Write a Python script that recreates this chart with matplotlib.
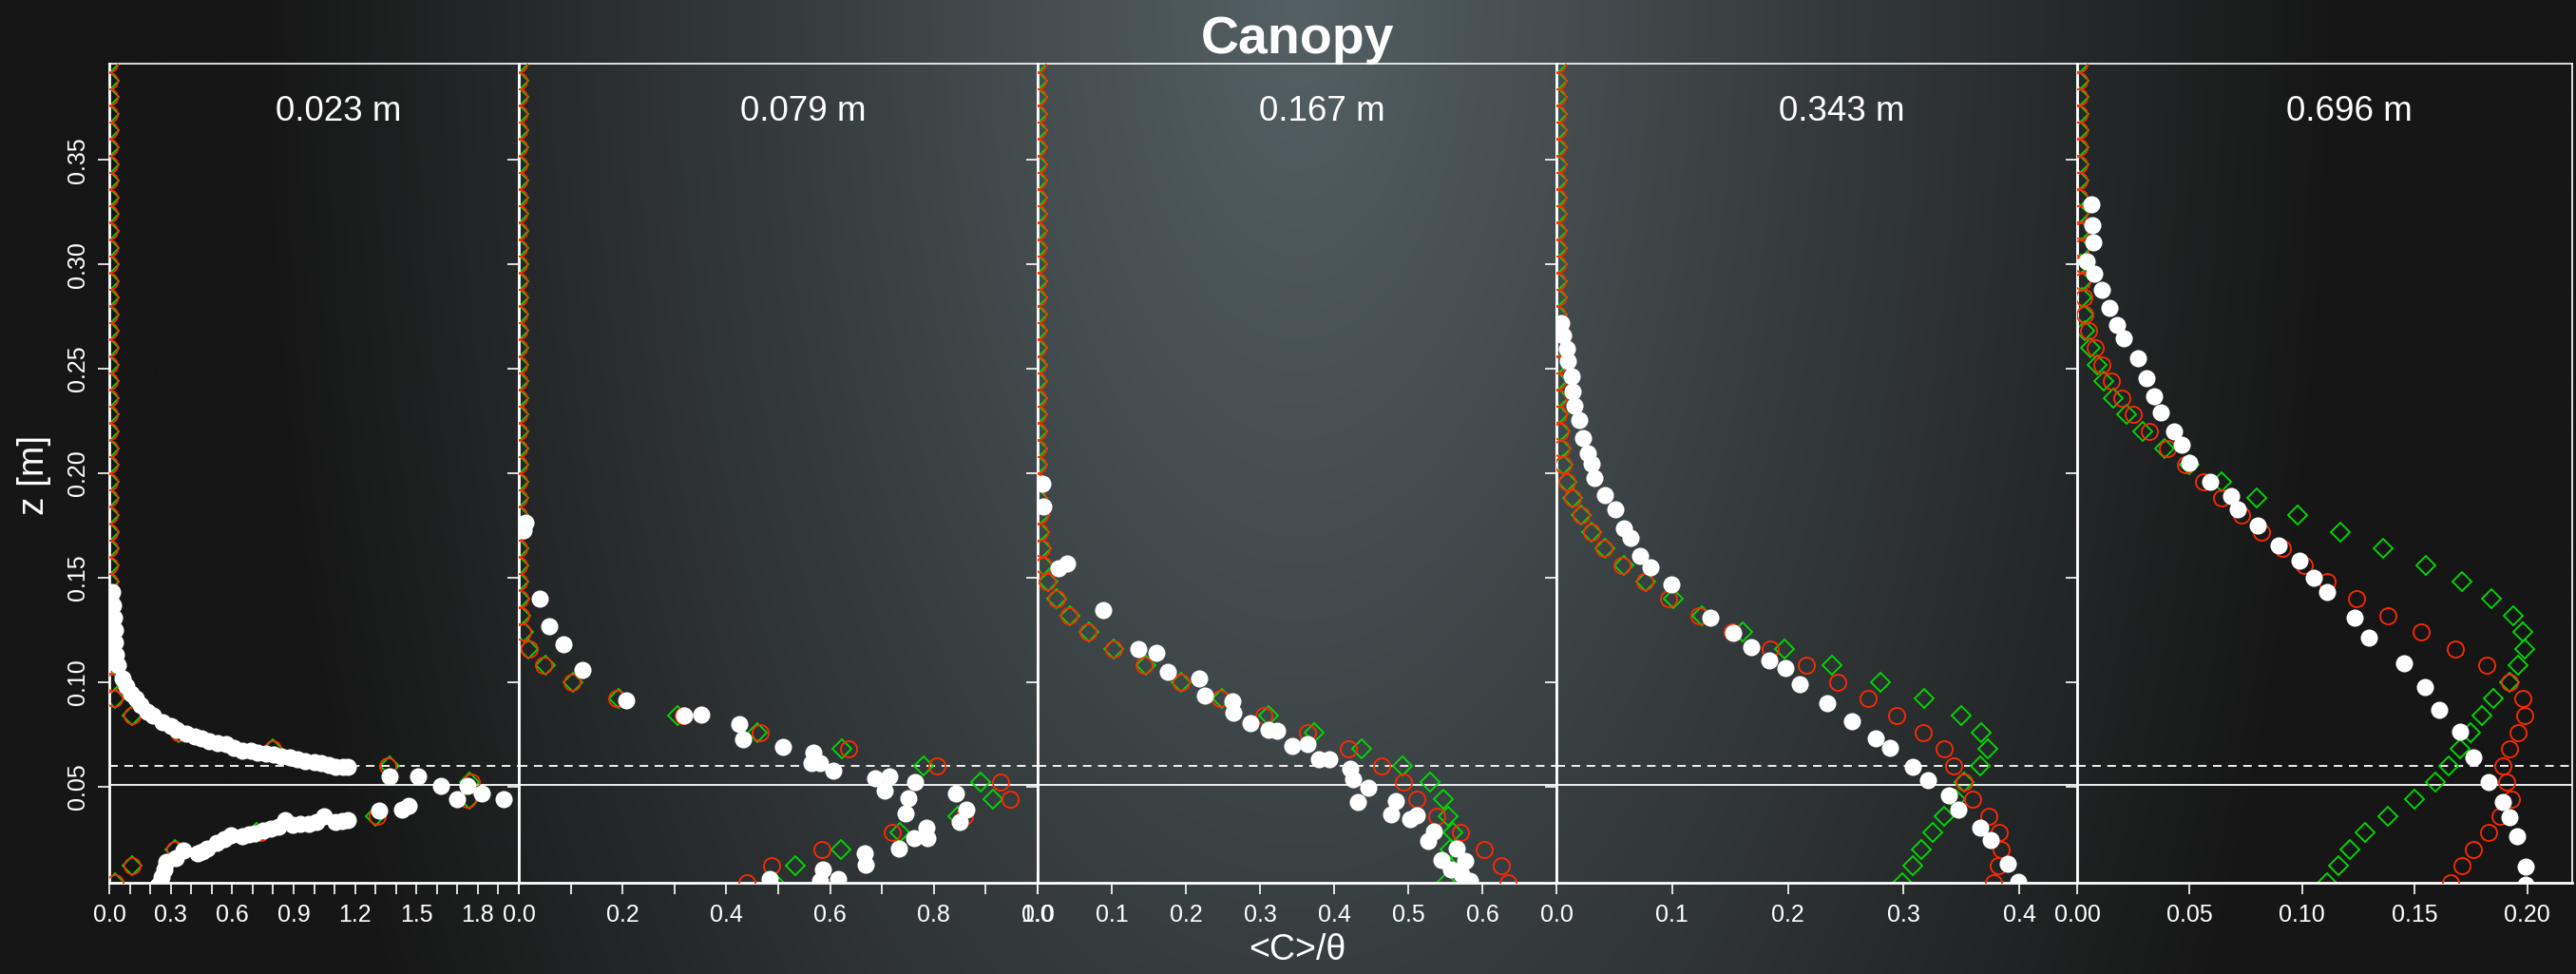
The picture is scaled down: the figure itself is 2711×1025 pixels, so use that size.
import numpy as np
import matplotlib
matplotlib.use('Agg')
import matplotlib.pyplot as plt

plt.rcParams['font.family'] = ['Liberation Sans', 'DejaVu Sans']

# heights of the model grid (m)
z_model = [0.004, 0.012, 0.020, 0.028, 0.036, 0.044, 0.052, 0.060, 0.068, 0.076,
           0.084, 0.092, 0.100, 0.108, 0.116, 0.124, 0.132, 0.140, 0.148, 0.156,
           0.164, 0.172, 0.180, 0.188, 0.196, 0.204, 0.212, 0.220, 0.228, 0.236,
           0.244, 0.252, 0.260, 0.268, 0.276, 0.284, 0.292, 0.300, 0.308, 0.316,
           0.324, 0.332, 0.340, 0.348, 0.356, 0.364, 0.372, 0.380, 0.388, 0.396]

# downstream distances
distances = ['0.023 m', '0.079 m', '0.167 m', '0.343 m', '0.696 m']

# model 1 (red circles) and model 2 (green diamonds), <C>/theta on z_model
m1_red = [0.03, 0.11, 0.32, 0.74, 1.31, 1.75, 1.77, 1.36, 0.80, 0.34,
          0.11, 0.025, 0.012, 0.005, 0.002, 0, 0, 0, 0, 0,
          0, 0, 0, 0, 0, 0, 0, 0, 0, 0,
          0, 0, 0, 0, 0, 0, 0, 0, 0, 0,
          0, 0, 0, 0, 0, 0, 0, 0, 0, 0]
m1_green = [0.03, 0.11, 0.32, 0.72, 1.30, 1.76, 1.76, 1.37, 0.80, 0.34,
            0.11, 0.03, 0.012, 0.005, 0.002, 0, 0, 0, 0, 0,
            0, 0, 0, 0, 0, 0, 0, 0, 0, 0,
            0, 0, 0, 0, 0, 0, 0, 0, 0, 0,
            0, 0, 0, 0, 0, 0, 0, 0, 0, 0]

m2_red = [0.440, 0.487, 0.585, 0.720, 0.859, 0.947, 0.928, 0.805, 0.635, 0.466,
          0.316, 0.188, 0.102, 0.048, 0.020, 0.008, 0.004, 0.002, 0, 0,
          0, 0, 0, 0, 0, 0, 0, 0, 0, 0,
          0, 0, 0, 0, 0, 0, 0, 0, 0, 0,
          0, 0, 0, 0, 0, 0, 0, 0, 0, 0]
m2_green = [0.493, 0.533, 0.621, 0.734, 0.846, 0.914, 0.890, 0.780, 0.622, 0.460,
            0.306, 0.192, 0.105, 0.051, 0.018, 0.010, 0.004, 0.002, 0, 0,
            0, 0, 0, 0, 0, 0, 0, 0, 0, 0,
            0, 0, 0, 0, 0, 0, 0, 0, 0, 0,
            0, 0, 0, 0, 0, 0, 0, 0, 0, 0]

m3_red = [0.634, 0.626, 0.603, 0.571, 0.538, 0.511, 0.493, 0.464, 0.419, 0.364,
          0.305, 0.246, 0.193, 0.144, 0.103, 0.068, 0.042, 0.025, 0.013, 0.008,
          0.005, 0.003, 0.002, 0, 0, 0, 0, 0, 0, 0,
          0, 0, 0, 0, 0, 0, 0, 0, 0, 0,
          0, 0, 0, 0, 0, 0, 0, 0, 0, 0]
m3_green = [0.551, 0.555, 0.556, 0.560, 0.554, 0.547, 0.530, 0.492, 0.437, 0.373,
            0.311, 0.249, 0.194, 0.146, 0.103, 0.069, 0.043, 0.025, 0.014, 0.008,
            0.005, 0.003, 0.002, 0, 0, 0, 0, 0, 0, 0,
            0, 0, 0, 0, 0, 0, 0, 0, 0, 0,
            0, 0, 0, 0, 0, 0, 0, 0, 0, 0]

m4_red = [0.378, 0.382, 0.384, 0.383, 0.374, 0.360, 0.352, 0.343, 0.335, 0.317,
          0.294, 0.269, 0.243, 0.216, 0.185, 0.152, 0.123, 0.097, 0.076, 0.057,
          0.041, 0.030, 0.021, 0.014, 0.009, 0.006, 0.004, 0.003, 0.002, 0.002,
          0.001, 0.001, 0.001, 0.001, 0.001, 0.001, 0.001, 0.001, 0.001, 0.001,
          0.001, 0.001, 0.001, 0.001, 0.001, 0.001, 0.001, 0.001, 0.001, 0.001]
m4_green = [0.299, 0.308, 0.315, 0.325, 0.335, 0.345, 0.352, 0.366, 0.373, 0.367,
            0.350, 0.318, 0.280, 0.238, 0.197, 0.161, 0.126, 0.101, 0.077, 0.058,
            0.042, 0.030, 0.021, 0.014, 0.009, 0.006, 0.004, 0.003, 0.002, 0.002,
            0.001, 0.001, 0.001, 0.001, 0.001, 0.001, 0.001, 0.001, 0.001, 0.001,
            0.001, 0.001, 0.001, 0.001, 0.001, 0.001, 0.001, 0.001, 0.001, 0.001]

m5_red = [0.166, 0.171, 0.176, 0.183, 0.188, 0.193, 0.191, 0.189, 0.192, 0.196,
          0.199, 0.198, 0.192, 0.182, 0.168, 0.153, 0.138, 0.124, 0.111, 0.101,
          0.091, 0.082, 0.073, 0.064, 0.056, 0.048, 0.040, 0.032, 0.025, 0.020,
          0.015, 0.011, 0.008, 0.005, 0.0035, 0.0028, 0.002, 0.002, 0.0015, 0.0015,
          0.001, 0.001, 0.001, 0.001, 0.001, 0.001, 0.001, 0.001, 0.001, 0.001]
m5_green = [0.111, 0.116, 0.121, 0.128, 0.138, 0.150, 0.159, 0.165, 0.170, 0.175,
            0.180, 0.185, 0.192, 0.196, 0.199, 0.198, 0.194, 0.184, 0.171, 0.155,
            0.136, 0.117, 0.098, 0.080, 0.064, 0.050, 0.039, 0.029, 0.022, 0.016,
            0.012, 0.009, 0.006, 0.0035, 0.0028, 0.002, 0.002, 0.0015, 0.0015, 0.0015,
            0.001, 0.001, 0.001, 0.001, 0.001, 0.001, 0.001, 0.001, 0.001, 0.001]

# measurements (white dots)
obs1_x = [0.014, 0.020, 0.024, 0.027, 0.030, 0.034, 0.042, 0.063, 0.085, 0.107,
          0.130, 0.153, 0.185, 0.215, 0.262, 0.300, 0.331, 0.375, 0.416, 0.450,
          0.486, 0.530, 0.571, 0.610, 0.649, 0.690, 0.726, 0.765, 0.803, 0.840,
          0.881, 0.920, 0.958, 1.000, 1.036, 1.070, 1.105, 1.140, 1.167,
          1.317, 1.368, 1.430, 1.461, 1.508, 1.621, 1.698, 1.748, 1.817, 1.926,
          1.167, 1.135, 1.105, 1.051, 1.010, 0.974, 0.935, 0.896, 0.858, 0.825,
          0.788, 0.750, 0.711, 0.680, 0.649, 0.594, 0.560, 0.525, 0.478, 0.455,
          0.432, 0.362, 0.324, 0.277, 0.269, 0.254, 0.238]
obs1_z = [0.143, 0.137, 0.131, 0.125, 0.119, 0.113, 0.108, 0.102, 0.098, 0.0945,
          0.092, 0.089, 0.086, 0.084, 0.081, 0.079, 0.077, 0.0755, 0.074, 0.073,
          0.0718, 0.071, 0.0703, 0.0685, 0.0673, 0.067, 0.0665, 0.066, 0.0654, 0.0645,
          0.0639, 0.063, 0.0624, 0.0618, 0.0612, 0.0603, 0.0597, 0.0595, 0.0594,
          0.0387, 0.0551, 0.0392, 0.0407, 0.0551, 0.0503, 0.0442, 0.0503, 0.0468, 0.0442,
          0.0339, 0.0335, 0.0331, 0.0357, 0.0330, 0.0324, 0.0320, 0.0316, 0.0339, 0.0310,
          0.0301, 0.0290, 0.0278, 0.0270, 0.0263, 0.0266, 0.0250, 0.0233, 0.0203, 0.0190,
          0.0180, 0.0195, 0.0157, 0.0142, 0.0104, 0.0066, 0.0028]

obs2_x = [0.012, 0.009, 0.040, 0.059, 0.086, 0.122, 0.207, 0.318, 0.351, 0.425,
          0.432, 0.510, 0.567, 0.565, 0.580, 0.607, 0.687, 0.715, 0.705, 0.763,
          0.750, 0.746, 0.843, 0.863, 0.849, 0.785, 0.762, 0.787, 0.733, 0.666,
          0.669, 0.586, 0.580, 0.616, 0.484]
obs2_z = [0.1763, 0.1725, 0.1400, 0.1266, 0.1180, 0.1058, 0.0914, 0.0839, 0.0846, 0.0801,
          0.0728, 0.0690, 0.0664, 0.0611, 0.0611, 0.0576, 0.0538, 0.0551, 0.0482, 0.0523,
          0.0444, 0.0372, 0.0467, 0.0391, 0.0331, 0.0304, 0.0255, 0.0252, 0.0205, 0.0179,
          0.0126, 0.0103, 0.0050, 0.0058, 0.0058]

obs3_x = [0.006, 0.008, 0.028, 0.040, 0.088, 0.136, 0.160, 0.175, 0.218, 0.225,
          0.263, 0.264, 0.287, 0.311, 0.323, 0.344, 0.364, 0.380, 0.394, 0.422,
          0.425, 0.446, 0.432, 0.483, 0.477, 0.503, 0.512, 0.535, 0.527, 0.565,
          0.577, 0.545, 0.558, 0.572, 0.583]
obs3_z = [0.1948, 0.1839, 0.1543, 0.1569, 0.1346, 0.1157, 0.1142, 0.1048, 0.1016, 0.0937,
          0.0907, 0.0854, 0.0804, 0.0773, 0.0766, 0.0695, 0.0702, 0.0629, 0.0629, 0.0584,
          0.0535, 0.0497, 0.0425, 0.0429, 0.0369, 0.0346, 0.0361, 0.0285, 0.0240, 0.0202,
          0.0144, 0.0149, 0.0103, 0.0081, 0.0050]

obs4_x = [0.004, 0.006, 0.009, 0.010, 0.013, 0.014, 0.016, 0.020, 0.023, 0.027,
          0.030, 0.033, 0.042, 0.051, 0.058, 0.064, 0.072, 0.081, 0.099, 0.133,
          0.153, 0.168, 0.184, 0.198, 0.210, 0.234, 0.255, 0.276, 0.288, 0.308,
          0.321, 0.339, 0.347, 0.366, 0.375, 0.390, 0.399]
obs4_z = [0.2720, 0.2659, 0.2597, 0.2536, 0.2462, 0.2392, 0.2322, 0.2255, 0.2167, 0.2097,
          0.2045, 0.1975, 0.1896, 0.1825, 0.1738, 0.1690, 0.1603, 0.1550, 0.1466, 0.1308,
          0.1238, 0.1168, 0.1106, 0.1066, 0.0992, 0.0899, 0.0811, 0.0732, 0.0685, 0.0597,
          0.0532, 0.0457, 0.0392, 0.0304, 0.0246, 0.0129, 0.0045]

obs5_x = [0.0063, 0.0066, 0.0071, 0.0042, 0.0078, 0.0111, 0.0145, 0.0178, 0.0209, 0.0271,
          0.0307, 0.0340, 0.0371, 0.0432, 0.0464, 0.0500, 0.0590, 0.0683, 0.0714, 0.0804,
          0.0896, 0.0987, 0.1050, 0.1112, 0.1233, 0.1298, 0.1451, 0.1544, 0.1608, 0.1701,
          0.1762, 0.1827, 0.1890, 0.1922, 0.1955, 0.1991, 0.1994]
obs5_z = [0.3289, 0.3185, 0.3105, 0.3016, 0.2954, 0.2876, 0.2790, 0.2710, 0.2645, 0.2548,
          0.2455, 0.2368, 0.2289, 0.2202, 0.2137, 0.2051, 0.1958, 0.1889, 0.1828, 0.1748,
          0.1655, 0.1580, 0.1500, 0.1431, 0.1310, 0.1215, 0.1090, 0.0977, 0.0867, 0.0761,
          0.0642, 0.0524, 0.0426, 0.0355, 0.0262, 0.0117, 0.0031]

# x-axis limits and ticks of each panel
xmax = [2.0, 1.0, 0.7, 0.45, 0.22]
xticks = [[0.0, 0.1, 0.2, 0.3, 0.4, 0.5, 0.6, 0.7, 0.8, 0.9, 1.0,
           1.1, 1.2, 1.3, 1.4, 1.5, 1.6, 1.7, 1.8, 1.9, 2.0],
          [0.0, 0.1, 0.2, 0.3, 0.4, 0.5, 0.6, 0.7, 0.8, 0.9, 1.0],
          [0.0, 0.1, 0.2, 0.3, 0.4, 0.5, 0.6],
          [0.0, 0.1, 0.2, 0.3, 0.4],
          [0.00, 0.05, 0.10, 0.15, 0.20]]
xticklabels = [['0.0', '', '', '0.3', '', '', '0.6', '', '', '0.9', '',
                '', '1.2', '', '', '1.5', '', '', '1.8', '', ''],
               ['0.0', '', '0.2', '', '0.4', '', '0.6', '', '0.8', '', '1.0'],
               ['0.0', '0.1', '0.2', '0.3', '0.4', '0.5', '0.6'],
               ['0.0', '0.1', '0.2', '0.3', '0.4'],
               ['0.00', '0.05', '0.10', '0.15', '0.20']]
yticks = [0.05, 0.10, 0.15, 0.20, 0.25, 0.30, 0.35]
yticklabels = ['0.05', '0.10', '0.15', '0.20', '0.25', '0.30', '0.35']

z_canopy = 0.051
z_dashed = 0.06

obs_x = [obs1_x, obs2_x, obs3_x, obs4_x, obs5_x]
obs_z = [obs1_z, obs2_z, obs3_z, obs4_z, obs5_z]
mod_red = [m1_red, m2_red, m3_red, m4_red, m5_red]
mod_green = [m1_green, m2_green, m3_green, m4_green, m5_green]

W, H = 2711, 1025
fig = plt.figure(figsize=(W / 100, H / 100), dpi=100)
fig.patch.set_facecolor('#161616')

# dark backdrop, lighter towards the top middle
gx, gy = np.meshgrid(np.linspace(0, W, 400), np.linspace(0, H, 160))
d = np.sqrt(((gx - 1366) / 1100.0) ** 2 + (gy / 2200.0) ** 2)
f = np.clip(1 - d, 0, 1)
c_in = np.array([84, 96, 100]) / 255.0
c_out = np.array([22, 22, 22]) / 255.0
img = c_out + (c_in - c_out) * f[..., None]
bg = fig.add_axes([0, 0, 1, 1], zorder=-10)
bg.imshow(img, extent=[0, 1, 0, 1], aspect='auto', interpolation='bilinear')
bg.axis('off')

lefts = [115, 546, 1092, 1638, 2186]
rights = [546, 1092, 1638, 2186, 2707]
top, bot = 67, 929

for i in range(5):
    ax = fig.add_axes([lefts[i] / W, 1 - bot / H, (rights[i] - lefts[i]) / W, (bot - top) / H])
    ax.set_facecolor('none')
    ax.set_xlim(0, xmax[i])
    ax.set_ylim(0.004, 0.396)

    ax.plot(mod_green[i], z_model, ls='none', marker='D', ms=10.5, mfc='none',
            mec='#00dd00', mew=1.3, zorder=2)
    ax.plot(mod_red[i], z_model, ls='none', marker='o', ms=12.3, mfc='none',
            mec='#ff2a00', mew=1.3, zorder=3)
    ax.plot(obs_x[i], obs_z[i], ls='none', marker='o', ms=13, mfc='white',
            mec='white', mew=0, zorder=4)

    ax.axhline(z_canopy, color='white', lw=1.3, zorder=1)
    ax.axhline(z_dashed, color='white', lw=1.3, ls=(0, (5, 3.8)), zorder=1)

    for s in ['top', 'right']:
        ax.spines[s].set_linewidth(1.2)
    for s in ['left', 'bottom']:
        ax.spines[s].set_linewidth(2.0)
    for s in ax.spines.values():
        s.set_color('white')

    ax.set_xticks(xticks[i])
    ax.set_xticklabels(xticklabels[i])
    ax.set_yticks(yticks)
    ax.tick_params(axis='both', direction='out', length=8.6, width=1.2,
                   colors='white', labelsize=18)
    ax.tick_params(axis='x', pad=7)
    if i == 0:
        ax.set_yticklabels(yticklabels)
        ax.tick_params(axis='y', pad=6.5)
        for lab in ax.get_yticklabels():
            lab.set_rotation(90)
            lab.set_va('center')
    else:
        ax.tick_params(axis='y', labelleft=False)

    xc = (lefts[i] + rights[i]) / 2 + 26
    fig.text(xc / W, 1 - 127 / H, distances[i], ha='center', va='baseline',
             fontsize=26.5, color='white')

fig.text(1366 / W, 1 - 56 / H, 'Canopy', ha='center', va='baseline',
         fontsize=40, fontweight='bold', color='white')
fig.text(1365 / W, 1 - 1000 / H, '<C>/θ', ha='center', va='center',
         fontsize=27, color='white')
fig.text(36 / W, 1 - 500 / H, 'z [m]', ha='center', va='center',
         rotation=90, fontsize=28, color='white')

fig.savefig('out.png', dpi=100, facecolor=fig.get_facecolor())
